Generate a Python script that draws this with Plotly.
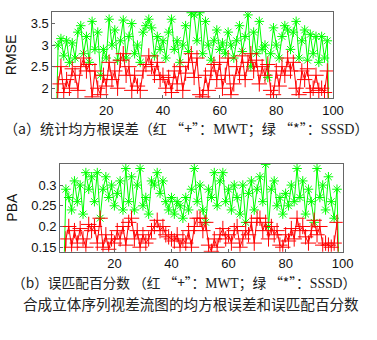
import plotly.graph_objects as go

frames = list(range(2, 100))

rmse_sssd = [0.0,
 3.0, 3.15, 2.75, 3.1, 2.6, 3.05, 2.7, 3.3, 3.45, 2.8, 3.2, 2.6, 3.55, 2.9, 3.3, 2.3, 2.9, 2.7, 3.6, 3.0,
 3.35, 2.65, 3.1, 3.58, 2.7, 3.2, 3.5, 2.8, 3.0, 2.6, 3.3, 3.45, 3.6, 3.4, 2.75, 3.2, 2.9, 3.1, 2.7, 3.3,
 3.6, 2.9, 3.1, 2.6, 3.0, 3.45, 2.85, 3.75, 3.7, 3.1, 3.75, 2.8, 3.55, 3.0, 2.65, 3.1, 3.35, 2.9, 3.05, 2.8,
 3.3, 3.0, 2.7, 3.1, 3.45, 2.85, 3.2, 3.7, 2.5, 3.3, 2.8, 3.55, 2.9, 3.0, 2.25, 2.8, 3.4, 3.0, 2.7, 3.2,
 3.45, 3.35, 2.9, 3.3, 3.55, 2.7, 3.1, 3.35, 2.65, 3.25, 2.8, 3.2, 2.6, 3.2, 2.7, 3.1,
 0.0]

rmse_mwt = [0.0,
 2.1, 2.5, 1.9, 2.2, 2.0, 2.45, 2.3, 1.95, 2.5, 2.7, 2.4, 2.55, 1.8, 2.4, 2.0, 1.85, 2.3, 2.05, 2.6, 2.2,
 2.4, 2.0, 2.65, 2.8, 2.3, 2.5, 1.95, 2.3, 2.05, 1.95, 2.4, 2.55, 2.75, 2.5, 2.3, 2.6, 2.2, 2.3, 2.0, 2.25,
 1.9, 2.4, 2.1, 2.5, 1.95, 2.35, 2.6, 2.8, 2.25, 2.7, 1.85, 1.8, 2.3, 1.95, 2.4, 2.55, 2.2, 2.6, 2.0, 2.3,
 2.7, 1.85, 2.1, 2.5, 2.3, 2.75, 2.2, 2.6, 2.8, 2.4, 2.65, 2.1, 2.5, 2.3, 2.55, 1.95, 1.85, 2.4, 2.05, 2.5,
 2.3, 2.7, 2.4, 2.6, 2.0, 1.85, 2.4, 2.2, 2.45, 1.9, 2.0, 2.3, 1.95, 2.0, 1.9, 2.4,
 0.0]

pba_sssd = [0.0,
 0.29, 0.27, 0.24, 0.31, 0.26, 0.30, 0.23, 0.33, 0.29, 0.32, 0.26, 0.33, 0.22, 0.29, 0.32, 0.27, 0.30, 0.25, 0.28, 0.31,
 0.24, 0.34, 0.26, 0.32, 0.24, 0.30, 0.34, 0.25, 0.27, 0.23, 0.31, 0.30, 0.33, 0.28, 0.31, 0.26, 0.24, 0.27, 0.23, 0.26,
 0.25, 0.22, 0.27, 0.24, 0.29, 0.34, 0.26, 0.30, 0.24, 0.21, 0.29, 0.27, 0.33, 0.25, 0.31, 0.33, 0.26, 0.29, 0.24, 0.30,
 0.27, 0.23, 0.30, 0.21, 0.28, 0.31, 0.24, 0.29, 0.32, 0.26, 0.35, 0.20, 0.29, 0.31, 0.25, 0.27, 0.23, 0.28, 0.25, 0.30,
 0.26, 0.34, 0.27, 0.31, 0.23, 0.29, 0.26, 0.21, 0.34, 0.27, 0.30, 0.24, 0.32, 0.26, 0.22, 0.29,
 0.0]

pba_mwt = [0.0,
 0.17, 0.20, 0.15, 0.19, 0.16, 0.195, 0.17, 0.15, 0.205, 0.19, 0.20, 0.16, 0.22, 0.15, 0.18, 0.145, 0.17, 0.16, 0.19, 0.17,
 0.20, 0.155, 0.21, 0.22, 0.17, 0.19, 0.15, 0.18, 0.16, 0.17, 0.19, 0.20, 0.215, 0.19, 0.20, 0.18, 0.175, 0.17, 0.165, 0.18,
 0.15, 0.17, 0.16, 0.19, 0.15, 0.20, 0.22, 0.22, 0.19, 0.21, 0.155, 0.14, 0.17, 0.15, 0.18, 0.195, 0.17, 0.18, 0.16, 0.19,
 0.20, 0.15, 0.17, 0.19, 0.18, 0.21, 0.16, 0.22, 0.22, 0.19, 0.21, 0.17, 0.20, 0.18, 0.19, 0.155, 0.15, 0.18, 0.165, 0.195,
 0.17, 0.22, 0.19, 0.20, 0.175, 0.16, 0.19, 0.215, 0.18, 0.20, 0.155, 0.16, 0.155, 0.15, 0.16, 0.21,
 0.0]

x_ticks = [20, 40, 60, 80, 100]
rmse_ticks = [2, 2.5, 3, 3.5]
pba_ticks = [0.15, 0.2, 0.25, 0.3]

SERIF = "<span style='font-family:Liberation Serif, serif'>{}</span>"
caption_a = "（a）统计均方根误差（红 “+”：" + SERIF.format("MWT") + "；绿 “*”：" + SERIF.format("SSSD") + "）"
caption_b = "（b）误匹配百分数 （红 “+”：" + SERIF.format("MWT") + "；绿 “*”：" + SERIF.format("SSSD") + "）"
caption_main = "合成立体序列视差流图的均方根误差和误匹配百分数"

RED = "#ff0000"
GREEN = "#00ff00"

fig = go.Figure()

def add_series(y, color, symbol, size, xa, ya):
    fig.add_trace(go.Scatter(
        x=frames, y=y, mode="lines+markers", xaxis=xa, yaxis=ya,
        line=dict(color=color, width=1),
        marker=dict(symbol=symbol, size=size, color=color, line=dict(color=color, width=1)),
        showlegend=False, hoverinfo="skip"))

add_series(rmse_sssd, GREEN, "asterisk-open", 8, "x", "y")
add_series(rmse_mwt, RED, "cross-thin-open", 11, "x", "y")
add_series(pba_sssd, GREEN, "asterisk-open", 8, "x2", "y2")
add_series(pba_mwt, RED, "cross-thin-open", 11, "x2", "y2")

tickfont = dict(family="Liberation Sans, Arial, sans-serif", size=13, color="#111")
titlefont = dict(family="Liberation Sans, Arial, sans-serif", size=14, color="#111")
axis_common = dict(showline=True, linecolor="#666", linewidth=1, mirror=True,
                   ticks="inside", ticklen=3, tickcolor="#666", showgrid=False,
                   zeroline=False, tickfont=tickfont)

fig.update_layout(
    width=377, height=340, margin=dict(l=0, r=0, t=0, b=0),
    paper_bgcolor="white", plot_bgcolor="white",
    xaxis=dict(domain=[54/377, 343/377], range=[1, 100], tickvals=x_ticks, anchor="y",
               ticklabelstandoff=0, **axis_common),
    yaxis=dict(domain=[(340-99)/340, (340-12)/340], range=[1.77, 3.77], tickvals=rmse_ticks,
               anchor="x", title=dict(text="RMSE", font=titlefont, standoff=10),
               **axis_common),
    xaxis2=dict(domain=[62/377, 353/377], range=[1, 100], tickvals=x_ticks, anchor="y2",
                ticklabelstandoff=0, **axis_common),
    yaxis2=dict(domain=[(340-254)/340, (340-165)/340], range=[0.139, 0.352], tickvals=pba_ticks,
                tickformat=".2~f",
                anchor="x2", title=dict(text="PBA", font=titlefont, standoff=10),
                **axis_common),
)

fig.add_annotation(text=caption_a, xref="paper", yref="paper", x=192/377, y=(340-118.5)/340,
                   showarrow=False, font=dict(family="Noto Sans CJK SC, sans-serif", size=14.1, color="#222"),
                   xanchor="center", yanchor="top", borderpad=0)
fig.add_annotation(text=caption_b, xref="paper", yref="paper", x=190/377, y=(340-285)/340,
                   showarrow=False, font=dict(family="Noto Sans CJK SC, sans-serif", size=13.7, color="#222"),
                   xanchor="center", yanchor="middle", borderpad=0)
fig.add_annotation(text=caption_main, xref="paper", yref="paper", x=197/377, y=(340-306)/340,
                   showarrow=False, font=dict(family="Noto Sans CJK SC, sans-serif", size=14.6, color="#222"),
                   xanchor="center", yanchor="middle", borderpad=0)

fig.write_html("out.html")
